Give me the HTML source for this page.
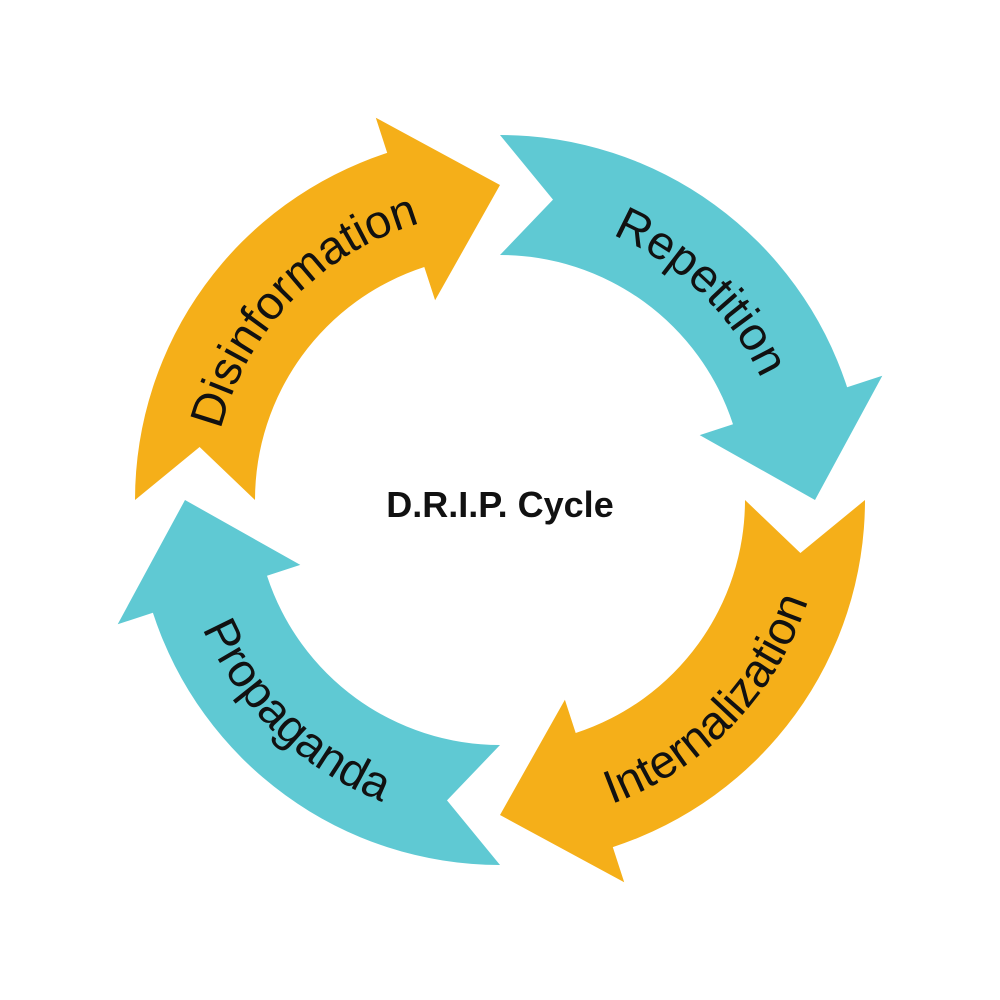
<!DOCTYPE html>
<html><head><meta charset="utf-8">
<style>
html,body{margin:0;padding:0;background:#fff;}
svg{display:block;}
.lbl{font-family:"Liberation Sans","DejaVu Sans",sans-serif;font-size:47px;fill:#111;font-weight:normal;}
</style></head>
<body>
<svg id="s" width="1000" height="1000" viewBox="0 0 1000 1000">
<defs>
<path id="t0"/><path id="t1"/><path id="t2"/><path id="t3"/>
</defs>
<path id="a0" fill="#F5AF19"/>
<path id="a1" fill="#5FC9D3"/>
<path id="a2" fill="#F5AF19"/>
<path id="a3" fill="#5FC9D3"/>
<text class="lbl"><textPath href="#t0" startOffset="50%" text-anchor="middle">Disinformation</textPath></text>
<text class="lbl"><textPath href="#t1" startOffset="50%" text-anchor="middle">Repetition</textPath></text>
<text class="lbl"><textPath href="#t2" startOffset="50%" text-anchor="middle">Internalization</textPath></text>
<text class="lbl"><textPath href="#t3" startOffset="50%" text-anchor="middle">Propaganda</textPath></text>
<text x="500" y="517" text-anchor="middle" font-family="'Liberation Sans',sans-serif" font-weight="bold" font-size="36" fill="#111">D.R.I.P. Cycle</text>
</svg>
<script>
var cx=500,cy=500;
function p(r,a){var t=a*Math.PI/180;return (cx+r*Math.cos(t)).toFixed(1)+","+(cy+r*Math.sin(t)).toFixed(1);}
var starts=[180,270,0,90];
for(var i=0;i<4;i++){
 var A=starts[i],Ro=365,Ri=245,H=A+72;
 var d="M"+p(Ro,A)+" A"+Ro+","+Ro+" 0 0 1 "+p(Ro,H)+" L"+p(402,H)+" L"+p(315,A+90)+" L"+p(210,H)+" L"+p(Ri,H)+
 " A"+Ri+","+Ri+" 0 0 0 "+p(Ri,A)+" L"+p(305,A+10)+" Z";
 document.getElementById("a"+i).setAttribute("d",d);
 var td;
 if(i<2){var r=288;td="M"+p(r,A+2)+" A"+r+","+r+" 0 0 1 "+p(r,A+86);}
 else{var r=324;td="M"+p(r,A+86)+" A"+r+","+r+" 0 0 0 "+p(r,A+2);}
 document.getElementById("t"+i).setAttribute("d",td);
}
</script>
</body></html>
